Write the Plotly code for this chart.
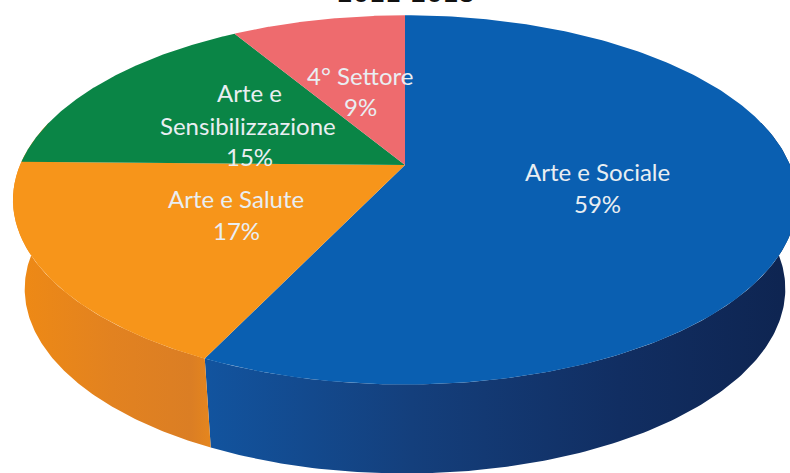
import numpy as np
import plotly.graph_objects as go

# --- Data -----------------------------------------------------------------
title_text = "2011-2018"
categories = ["Arte e Sociale", "Arte e Salute", "Arte e Sensibilizzazione", "4° Settore"]
printed_percent = [59, 17, 15, 9]          # percentages printed on the chart
drawn_share = [57.1, 18.2, 16.1, 8.6]      # sweep (they differ from the printed figures)

# --- Styling / layout (separate from data) --------------------------------
top_colors = ["#0A5FB1", "#F7951A", "#0A8546", "#EE6B6E"]
wall_scales = [
    [[0, "#12549F"], [0.35, "#143F7C"], [0.7, "#112E62"], [1, "#0E2450"]],
    [[0, "#EF8A14"], [0.5, "#E28220"], [0.9, "#DB7E24"], [1, "#E5861E"]],
]
W, H = 790, 473
APEX_X, APEX_Y = 405, 165
A, B, K = 385, 178, 0.189
DEPTH = 89
WALL_SHRINK = 0.97

label_lines = [
    [("Arte e Sociale", 597, 171), ("{}%", 597, 203)],
    [("Arte e Salute", 236, 198), ("{}%", 236, 230)],
    [("Arte e", 249, 92), ("Sensibilizzazione", 248, 125), ("{}%", 249, 156)],
    [("4° Settore", 360, 75), ("{}%", 360, 106)],
]


def top_edge(theta):
    """Project a clockwise-from-top angle on the disc to page coordinates."""
    X, Y = np.sin(theta), np.cos(theta)
    w = 1 + K * Y
    return APEX_X + A * X / w, APEX_Y - B * Y / w


def wall_edge(theta):
    x, y = top_edge(theta)
    return APEX_X + (x - APEX_X) * WALL_SHRINK, y + DEPTH


fig = go.Figure()
fractions = np.cumsum([0] + drawn_share) / sum(drawn_share)
angles = 2 * np.pi * fractions

# Walls: only the two front-facing slices are visible. The blue wall starts
# slightly behind the silhouette; its upper part is covered by the top face.
wall_spans = [(np.pi * 0.42, angles[1]), (angles[1], np.pi * 1.58)]
for (t0, t1), scale in zip(wall_spans, wall_scales):
    t = np.linspace(t0, t1, 160)
    xt, yt = top_edge(t)
    xb, yb = wall_edge(t)
    fig.add_trace(go.Scatter(
        x=np.r_[xt, xb[::-1]], y=np.r_[yt, yb[::-1]],
        mode="lines", line=dict(width=0), fill="toself",
        fillgradient=dict(type="horizontal", colorscale=scale),
        hoverinfo="skip", showlegend=False,
    ))

# Top faces
for i, name in enumerate(categories):
    t = np.linspace(angles[i], angles[i + 1], 200)
    xs, ys = top_edge(t)
    fig.add_trace(go.Scatter(
        x=np.r_[APEX_X, xs, APEX_X], y=np.r_[APEX_Y, ys, APEX_Y],
        mode="lines", line=dict(width=0), fill="toself",
        fillcolor=top_colors[i], name=name, showlegend=False,
    ))

# Labels
annotations = []
for pct, lines in zip(printed_percent, label_lines):
    for text, x, y in lines:
        annotations.append(dict(
            x=x, y=y, xref="x", yref="y", showarrow=False,
            text=text.format(pct), xanchor="center", yanchor="middle",
            font=dict(family="Lato, Noto Sans, sans-serif", size=24, color="#E9EEF2"),
        ))
annotations.append(dict(
    x=406, y=0, yshift=6, xref="x", yref="y", showarrow=False, text=f"<b>{title_text}</b>",
    xanchor="center", yanchor="middle",
    font=dict(family="DejaVu Sans", size=23, color="#111111"),
))

fig.update_layout(
    width=W, height=H, margin=dict(l=0, r=0, t=0, b=0),
    paper_bgcolor="white", plot_bgcolor="white",
    xaxis=dict(range=[0, W], visible=False, fixedrange=True),
    yaxis=dict(range=[H, 0], visible=False, fixedrange=True),
    annotations=annotations, showlegend=False,
)
fig.write_html("out.html", config={"displayModeBar": False},
               post_script="document.body.style.margin='0';")
